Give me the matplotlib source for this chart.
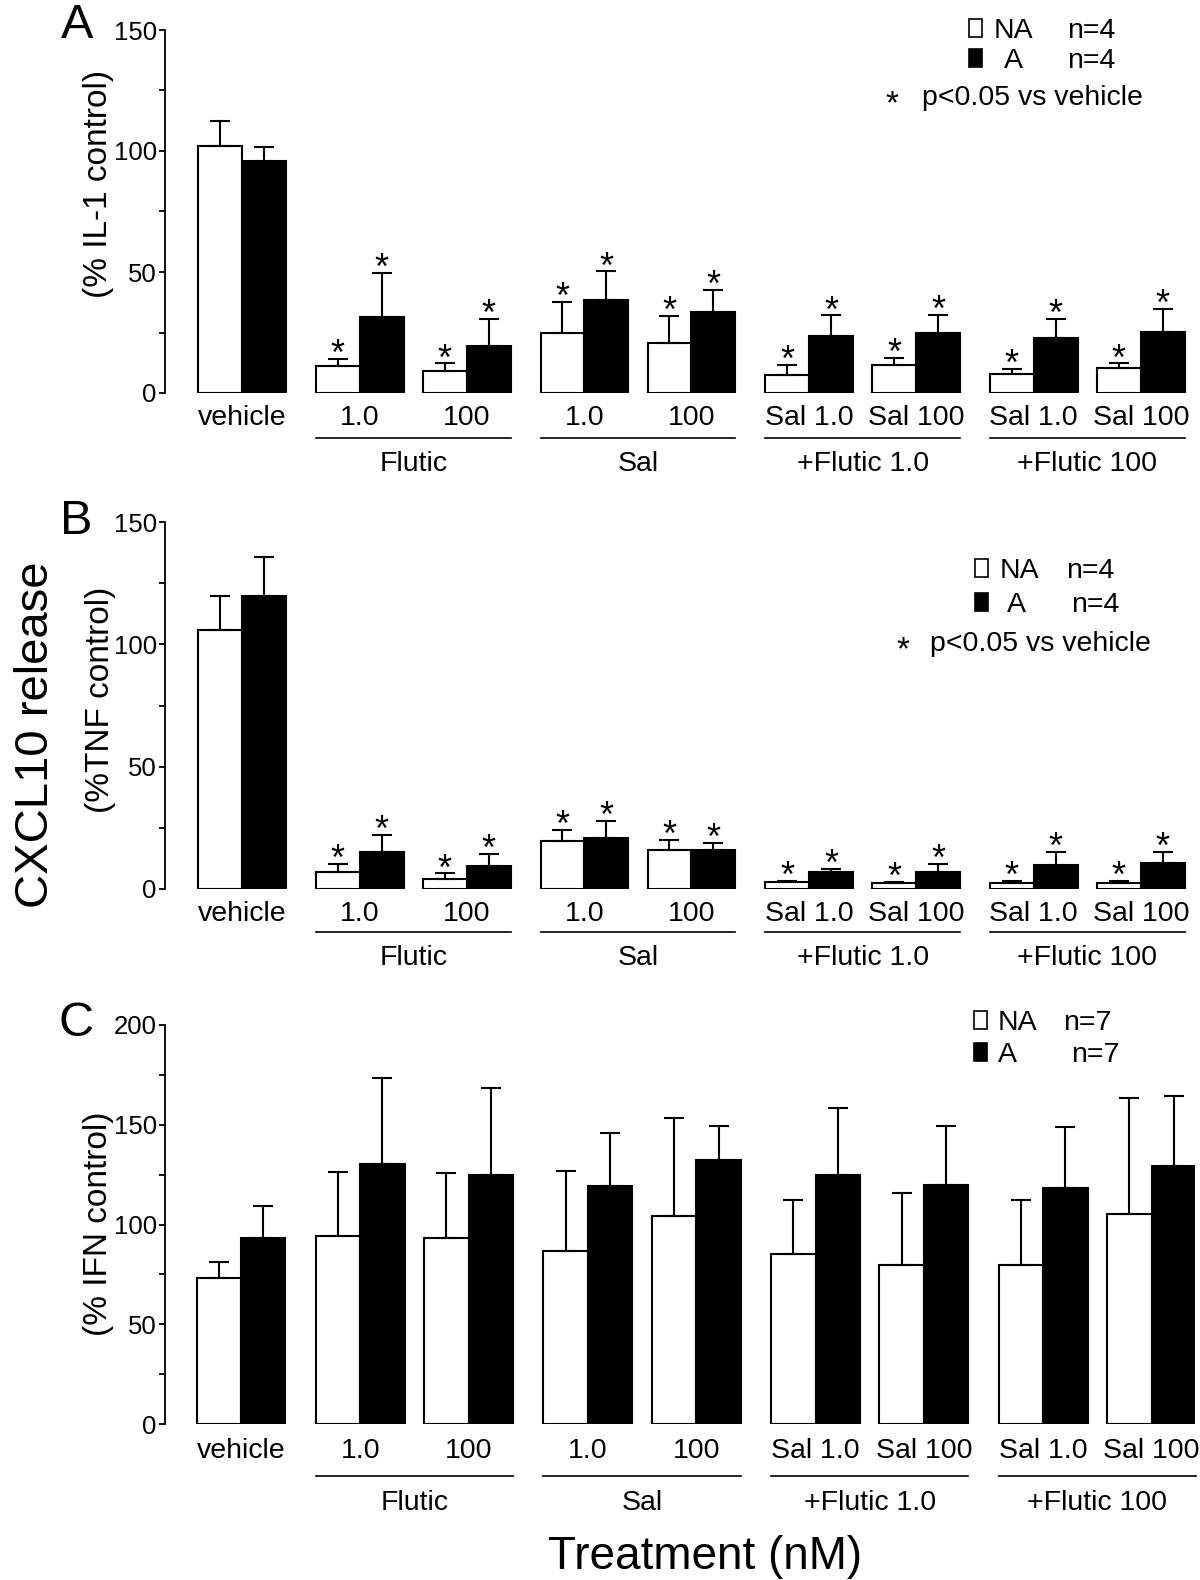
import matplotlib
matplotlib.use("Agg")
import matplotlib.pyplot as plt
from matplotlib.patches import Rectangle
from matplotlib.transforms import blended_transform_factory
import numpy as np

plt.rcParams['font.family'] = ['Liberation Sans', 'DejaVu Sans']

# ---------------- data ----------------
conditions = ["vehicle", "1.0", "100", "1.0", "100", "Sal 1.0", "Sal 100", "Sal 1.0", "Sal 100"]
groups = ["", "Flutic", "Flutic", "Sal", "Sal", "+Flutic 1.0", "+Flutic 1.0", "+Flutic 100", "+Flutic 100"]

# Panel A: % IL-1 control
a_na_mean = [102.1, 11.0, 9.2, 24.7, 20.8, 7.4, 11.5, 7.9, 10.3]
a_na_sem = [10.2, 3.2, 3.1, 13.0, 11.0, 4.1, 3.0, 2.2, 2.0]
a_a_mean = [95.9, 31.2, 19.5, 38.6, 33.6, 23.6, 24.7, 22.6, 25.1]
a_a_sem = [5.7, 18.4, 11.2, 11.7, 9.1, 8.5, 7.6, 8.1, 9.8]
a_sig = [False, True, True, True, True, True, True, True, True]

# Panel B: % TNF control
b_na_mean = [105.9, 6.8, 4.1, 19.7, 15.9, 2.7, 2.3, 2.3, 2.3]
b_na_sem = [14.0, 3.4, 2.3, 4.5, 4.3, 0.7, 0.6, 1.1, 1.1]
b_a_mean = [119.9, 15.3, 9.5, 21.0, 16.0, 6.8, 6.8, 9.9, 10.5]
b_a_sem = [15.8, 6.8, 5.0, 6.8, 3.0, 1.5, 3.4, 5.4, 4.8]
b_sig = [False, True, True, True, True, True, True, True, True]

# Panel C: % IFN control
c_na_mean = [73.4, 94.0, 93.2, 86.8, 104.3, 85.1, 79.8, 79.8, 105.3]
c_na_sem = [8.0, 32.4, 32.8, 40.1, 49.2, 27.3, 36.0, 32.6, 58.2]
c_a_mean = [93.0, 130.1, 124.7, 119.4, 132.2, 125.0, 120.0, 118.5, 129.4]
c_a_sem = [16.2, 43.3, 43.8, 26.7, 17.0, 33.6, 29.2, 30.3, 35.0]
c_sig = [False] * 9

n_labels = {"A": "n=4", "B": "n=4", "C": "n=7"}

# ---------------- layout ----------------
W, H = 1200, 1580
fig = plt.figure(figsize=(W / 100, H / 100), dpi=100)


def fx(px):
    return px / W


def fy(py):
    return 1 - py / H


gnames = []
for g in groups:
    if g not in gnames:
        gnames.append(g)
gidx = np.array([gnames.index(g) for g in groups])
centers = np.arange(len(conditions)) + gidx * 0.1
bw = 0.41

LBL = 20.5


def draw_panel(top_px, bot_px, ymax, major, minor, na_m, na_e, a_m, a_e, sig,
               ylabel, ylabel_xy, letter, letter_xy, tick_y, line_y, group_y, legend,
               k=107.0, c0=242.0):
    ax = fig.add_axes([fx(165), fy(bot_px), fx(1195) - fx(165), (bot_px - top_px) / H])
    ax.set_xlim((165 - c0) / k, (1195 - c0) / k)
    ax.set_ylim(0, ymax)
    for s in ["top", "right", "bottom"]:
        ax.spines[s].set_visible(False)
    ax.spines["left"].set_bounds(0, ymax)
    ax.spines["left"].set_linewidth(1.3)
    ax.set_yticks(major)
    ax.set_yticks(minor, minor=True)
    ax.tick_params(axis="y", which="both", direction="out", length=4, width=1.3,
                   labelsize=18.5, pad=2)
    ax.set_xticks([])
    ax.patch.set_visible(False)

    xna = centers - bw / 2
    xa = centers + bw / 2
    ax.bar(xna, na_m, width=bw, color="white", edgecolor="black", linewidth=1.5, zorder=2)
    ax.bar(xa, a_m, width=bw, color="black", edgecolor="black", linewidth=1.5, zorder=2)
    zeros = np.zeros(len(na_m))
    ax.errorbar(xna, na_m, yerr=[zeros, na_e], fmt="none", ecolor="black",
                elinewidth=1.5, capsize=7.5, capthick=1.5, zorder=3)
    ax.errorbar(xa, a_m, yerr=[zeros, a_e], fmt="none", ecolor="black",
                elinewidth=1.5, capsize=7.5, capthick=1.5, zorder=3)
    for i, s in enumerate(sig):
        if s:
            for x, m, e in ((xna[i], na_m[i], na_e[i]), (xa[i], a_m[i], a_e[i])):
                ax.annotate("*", (x, m + e), xytext=(0, -4.5), textcoords="offset points",
                            ha="center", va="baseline", fontsize=26)

    bt = blended_transform_factory(ax.transData, fig.transFigure)
    for c, lab in zip(centers, conditions):
        ax.text(c, fy(tick_y), lab, transform=bt, ha="center", va="center_baseline",
                fontsize=LBL, clip_on=False)
    for g in gnames:
        if not g:
            continue
        idx = [i for i, gg in enumerate(groups) if gg == g]
        x0 = centers[idx[0]] - bw
        x1 = centers[idx[-1]] + bw
        ax.plot([x0, x1], [fy(line_y), fy(line_y)], transform=bt, color="black",
                lw=1.2, clip_on=False)
        ax.text((x0 + x1) / 2, fy(group_y), g, transform=bt, ha="center",
                va="center_baseline", fontsize=LBL, clip_on=False)

    fig.text(fx(ylabel_xy[0]), fy(ylabel_xy[1]), ylabel, rotation=90, ha="center",
             va="center", fontsize=24)
    fig.text(fx(letter_xy[0]), fy(letter_xy[1]), letter, ha="center", va="center",
             fontsize=35)

    # legend
    sqx, r1, r2, na_x, a_x, n1_x, n2_x, star = legend
    for ry, fc in ((r1, "white"), (r2, "black")):
        fig.patches.append(Rectangle((fx(sqx - 6.5), fy(ry + 9)), 13 / W, 18 / H,
                                     transform=fig.transFigure, facecolor=fc,
                                     edgecolor="black", linewidth=1.2))
    fig.text(fx(na_x), fy(r1 + 10), "NA", ha="left", va="baseline", fontsize=LBL)
    fig.text(fx(a_x), fy(r2 + 10), "A", ha="left", va="baseline", fontsize=LBL)
    fig.text(fx(n1_x), fy(r1 + 10), n_labels[letter], ha="left", va="baseline", fontsize=LBL)
    fig.text(fx(n2_x), fy(r2 + 10), n_labels[letter], ha="left", va="baseline", fontsize=LBL)
    if star is not None:
        sx, sy, tx = star
        fig.text(fx(sx), fy(sy + 18), "*", ha="center", va="baseline", fontsize=24)
        fig.text(fx(tx), fy(sy + 10), "p<0.05 vs vehicle", ha="left", va="baseline",
                 fontsize=LBL)
    return ax


draw_panel(30, 393, 150, [0, 50, 100, 150], [25, 75, 125],
           a_na_mean, a_na_sem, a_a_mean, a_a_sem, a_sig,
           "(% IL-1 control)", (99, 184), "A", (77, 25), 415, 438, 461,
           (975, 28, 58, 994, 1004, 1067, 1067, (892, 95, 922)))

draw_panel(522, 889, 150, [0, 50, 100, 150], [25, 75, 125],
           b_na_mean, b_na_sem, b_a_mean, b_a_sem, b_sig,
           "(%TNF control)", (101, 700), "B", (76, 522), 911, 932, 955,
           (981, 568, 602, 1000, 1007, 1066, 1071, (903, 641, 930)))

draw_panel(1025, 1424, 200, [0, 50, 100, 150, 200], [25, 75, 125, 175],
           c_na_mean, c_na_sem, c_a_mean, c_a_sem, c_sig,
           "(% IFN control)", (99, 1224), "C", (76, 1024), 1448, 1476, 1500,
           (980, 1020, 1052, 998, 998, 1063, 1071, None), k=108.4, c0=241.0)

fig.text(fx(36), fy(735), "CXCL10 release", rotation=90, ha="center", va="center",
         fontsize=34)
fig.text(fx(705), fy(1557), "Treatment (nM)", ha="center", va="center", fontsize=33)

fig.savefig("out.png", dpi=100)
